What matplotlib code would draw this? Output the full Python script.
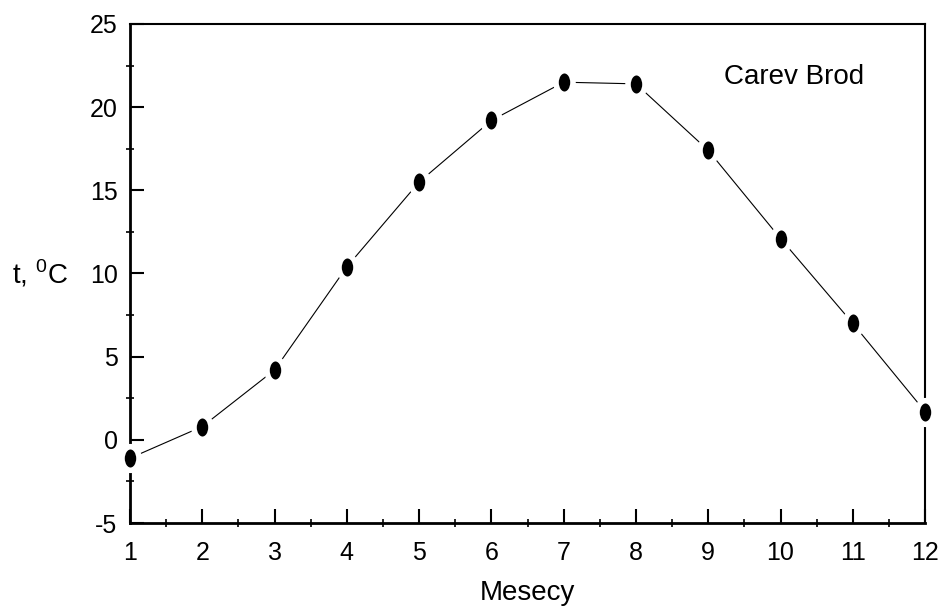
import matplotlib

matplotlib.use("Agg")
import matplotlib.pyplot as plt
from matplotlib.markers import MarkerStyle
from matplotlib.transforms import Affine2D
from matplotlib.ticker import MultipleLocator

plt.rcParams["font.family"] = ["Liberation Sans", "DejaVu Sans"]
plt.rcParams["mathtext.fontset"] = "custom"
plt.rcParams["mathtext.rm"] = "Liberation Sans"
plt.rcParams["axes.unicode_minus"] = False

months = [1, 2, 3, 4, 5, 6, 7, 8, 9, 10, 11, 12]
temps = [-1.1, 0.8, 4.2, 10.4, 15.5, 19.2, 21.5, 21.4, 17.4, 12.1, 7.0, 1.7]

fig = plt.figure(figsize=(9.43, 6.10), dpi=100)
ax = fig.add_axes([0.1379, 0.1426, 0.981 - 0.1379, 0.9607 - 0.1426])

marker = MarkerStyle("o", transform=Affine2D().scale(0.72, 1.0))
ax.plot(months, temps, "-", color="black", lw=0.8, marker=marker,
        ms=17, mfc="black", mec="white", mew=4, clip_on=False, zorder=3)

ax.set_xlim(1, 12)
ax.set_ylim(-5, 25)
ax.set_xticks(months)
ax.set_yticks(range(-5, 26, 5))
ax.xaxis.set_minor_locator(MultipleLocator(0.5))
ax.yaxis.set_minor_locator(MultipleLocator(2.5))
ax.tick_params(which="major", direction="in", length=10, width=1.5,
               labelsize=18, top=False, right=False)
ax.tick_params(axis="x", which="major", pad=13)
ax.tick_params(axis="y", which="major", pad=9)
ax.tick_params(which="minor", direction="inout", length=6, width=1.2,
               top=False, right=False)

for side in ["left", "bottom"]:
    ax.spines[side].set_linewidth(2)
for side in ["top", "right"]:
    ax.spines[side].set_linewidth(1.5)

ax.set_xlabel("Mesecy", fontsize=20, labelpad=11)
ax.set_ylabel("t, $^0$C", fontsize=20, rotation=0, labelpad=36, va="center")
ax.text(0.835, 0.894, "Carev Brod", transform=ax.transAxes, fontsize=20,
        ha="center", va="center")

fig.savefig("out.png", dpi=100)
